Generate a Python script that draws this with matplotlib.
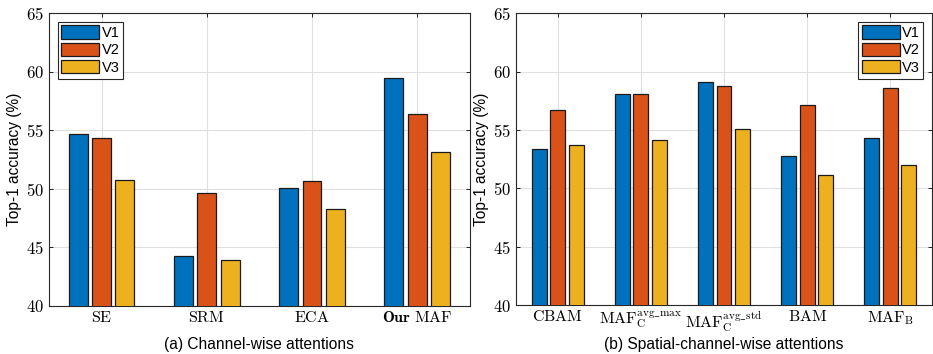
import numpy as np
import matplotlib.pyplot as plt

plt.rcParams['mathtext.fontset'] = 'cm'
plt.rcParams['font.family'] = ['Liberation Sans', 'DejaVu Sans']

# (a) channel-wise attentions
cats_a = [r'$\mathrm{SE}$', r'$\mathrm{SRM}$', r'$\mathrm{ECA}$', r'$\mathbf{Our}\ \mathrm{MAF}$']
v1_a = [54.7, 44.3, 50.1, 59.5]
v2_a = [54.3, 49.6, 50.7, 56.4]
v3_a = [50.75, 43.9, 48.25, 53.1]

# (b) spatial-channel-wise attentions
cats_b = [r'$\mathrm{CBAM}$', r'$\mathrm{MAF}_\mathrm{C}^\mathrm{avg\_max}$',
          r'$\mathrm{MAF}_\mathrm{C}^\mathrm{avg\_std}$', r'$\mathrm{BAM}$', r'$\mathrm{MAF}_\mathrm{B}$']
v1_b = [53.35, 58.1, 59.1, 52.8, 54.3]
v2_b = [56.7, 58.1, 58.8, 57.15, 58.6]
v3_b = [53.7, 54.1, 55.05, 51.1, 52.0]

ser_names = ['V1', 'V2', 'V3']
colors = ['#0072bd', '#d95319', '#edb120']
yticks = [40, 45, 50, 55, 60, 65]

fig = plt.figure(figsize=(9.33, 3.54), dpi=100)
ax1 = fig.add_axes([0.0525, 0.136, 0.451, 0.827])
ax2 = fig.add_axes([0.553, 0.138, 0.446, 0.825])


def draw(ax, cats, series, xlab, legloc):
    x = np.arange(1, len(cats) + 1)
    step, w = 0.222, 0.18
    for i, vals in enumerate(series):
        ax.bar(x + (i - 1) * step, vals, w, color=colors[i], edgecolor='#1a1a1a',
               linewidth=0.9, label=ser_names[i], zorder=3)
    ax.set_xlim(0.5, len(cats) + 0.5)
    ax.set_ylim(40, 65)
    ax.set_xticks(x)
    ax.set_xticklabels(cats, fontsize=11.5)
    ax.set_yticks(yticks)
    ax.set_yticklabels([r'$%d$' % t for t in yticks], fontsize=12)
    ax.tick_params(direction='in', top=True, right=True, length=3, width=0.6)
    ax.tick_params(axis='x', pad=3)
    ax.grid(True, color='#e0e0e0', linewidth=0.8, zorder=0)
    ax.set_axisbelow(True)
    for s in ax.spines.values():
        s.set_linewidth(0.8)
        s.set_color('#262626')
    ax.set_ylabel('Top-1 accuracy (%)', fontsize=11.2, labelpad=3)
    ax.set_xlabel(xlab, fontsize=11.2)
    ax.xaxis.set_label_coords(0.5, -0.108)
    leg = ax.legend(loc=legloc, fontsize=10.5, handlelength=2.6, handleheight=1.0,
                    handletextpad=0.15, labelspacing=0.2, borderpad=0.25,
                    borderaxespad=0.6, fancybox=False, edgecolor='#262626', framealpha=1)
    leg.get_frame().set_linewidth(0.8)


draw(ax1, cats_a, [v1_a, v2_a, v3_a], '(a) Channel-wise attentions', 'upper left')
draw(ax2, cats_b, [v1_b, v2_b, v3_b], '(b) Spatial-channel-wise attentions', 'upper right')

fig.savefig('out.png', dpi=100)
